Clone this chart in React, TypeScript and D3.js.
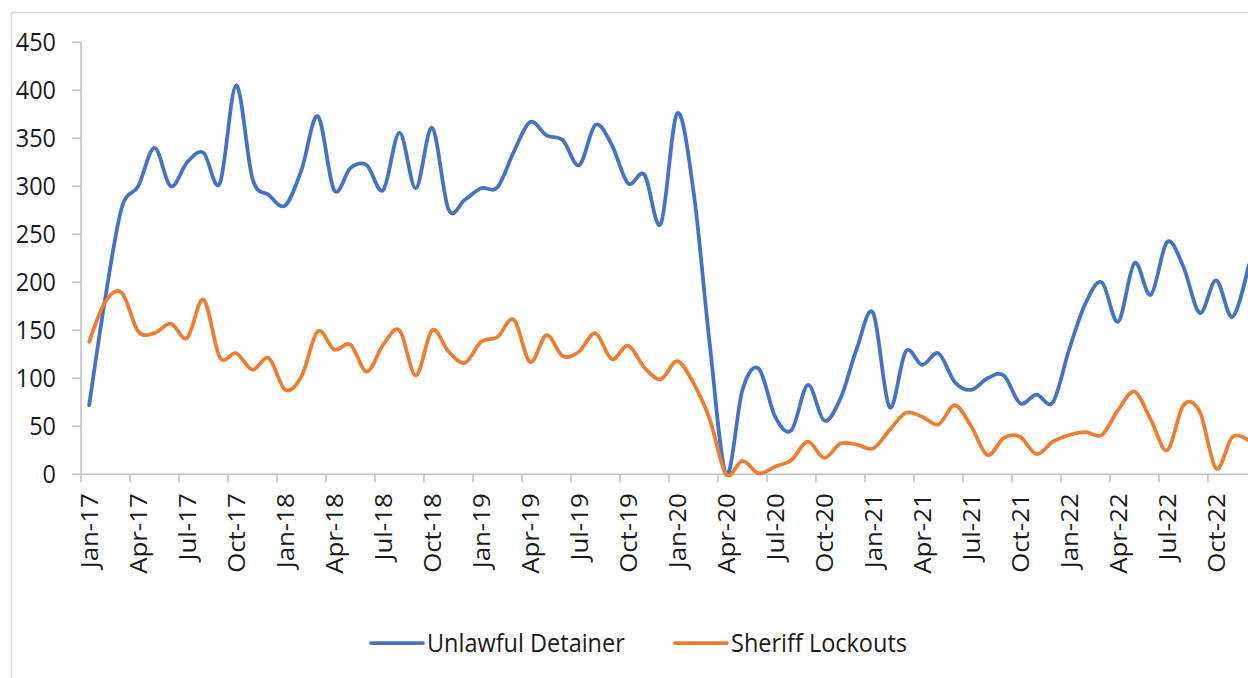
import React, { useEffect, useRef } from 'react';
import * as d3 from 'd3';

// monthly counts, Jan-17 .. Dec-22
const unlawfulDetainer = [
  72, 185, 278, 300, 340, 300, 325, 335, 303, 405, 308, 291,
  280, 317, 373, 296, 319, 322, 296, 356, 298, 361, 276, 286,
  298, 299, 336, 367, 353, 348, 322, 364, 343, 303, 312, 261,
  376, 295, 135, 0, 88, 110, 60, 46, 93, 56, 79, 131,
  168, 70, 128, 114, 126, 96, 88, 100, 103, 74, 83, 75,
  130, 178, 200, 159, 220, 187, 242, 216, 168, 202, 164, 218,
];

const sheriffLockouts = [
  138, 180, 189, 149, 147, 157, 142, 182, 122, 126, 109, 121,
  88, 102, 149, 130, 135, 107, 135, 150, 103, 150, 128, 116,
  138, 143, 161, 117, 145, 123, 128, 147, 120, 134, 111, 99,
  118, 95, 57, 0, 14, 1, 8, 15, 34, 17, 32, 31,
  27, 46, 64, 60, 52, 72, 50, 20, 38, 39, 21, 34,
  41, 44, 41, 67, 86, 57, 25, 72, 65, 6, 39, 35,
];

const seriesNames = ['Unlawful Detainer', 'Sheriff Lockouts'];
const seriesColors = ['#4472C4', '#ED7D31'];
const yTicks = [0, 50, 100, 150, 200, 250, 300, 350, 400, 450];

const months = d3.timeMonths(new Date(2017, 0, 1), new Date(2023, 0, 1));
const fmt = d3.timeFormat('%b-%y');

const Chart = () => {
  const ref = useRef<SVGSVGElement | null>(null);

  useEffect(() => {
    const svg = d3.select(ref.current);
    svg.selectAll('*').remove();

    const font = '"Open Sans", sans-serif';
    const fontSize = '23.5px';
    const stretch = 1.1; // text in the source is a bit taller than wide
    const left = 81;
    const step = 16.333;

    // frame
    svg.append('rect')
      .attr('x', 11.5).attr('y', 12.5)
      .attr('width', 1300).attr('height', 700)
      .attr('fill', 'white')
      .attr('stroke', '#d9d9d9').attr('stroke-width', 1.5);

    const x = d3.scaleBand<number>()
      .domain(d3.range(months.length))
      .range([left, left + step * months.length]);

    const y = d3.scaleLinear().domain([0, 450]).range([474.3, 42.3]);

    const cx = (i: number) => (x(i) as number) + x.bandwidth() / 2;

    // y axis
    svg.append('line')
      .attr('x1', left).attr('x2', left)
      .attr('y1', y(450)).attr('y2', y(0))
      .attr('stroke', '#bfbfbf').attr('stroke-width', 1.5);
    svg.selectAll('.ytick')
      .data(yTicks)
      .enter().append('line')
      .attr('x1', left - 9).attr('x2', left)
      .attr('y1', d => y(d)).attr('y2', d => y(d))
      .attr('stroke', '#bfbfbf').attr('stroke-width', 1.5);
    svg.selectAll('.ylab')
      .data(yTicks)
      .enter().append('text')
      .attr('transform', d => `translate(56,${y(d)}) scale(1,${stretch})`)
      .attr('dy', '0.35em')
      .attr('text-anchor', 'end')
      .style('font-family', font)
      .style('font-size', fontSize)
      .attr('fill', '#1a1a1a')
      .text(d => d);

    // x axis
    svg.append('line')
      .attr('x1', left).attr('x2', 1300)
      .attr('y1', y(0)).attr('y2', y(0))
      .attr('stroke', '#bfbfbf').attr('stroke-width', 1.5);
    const quarters = d3.range(0, months.length, 3);
    svg.selectAll('.xtick')
      .data(quarters)
      .enter().append('line')
      .attr('x1', d => x(d) as number).attr('x2', d => x(d) as number)
      .attr('y1', y(0)).attr('y2', y(0) + 8)
      .attr('stroke', '#bfbfbf').attr('stroke-width', 1.5);
    svg.selectAll('.xlab')
      .data(quarters)
      .enter().append('text')
      .attr('transform', d => `translate(${cx(d) + 1},${y(0) + 19}) scale(1,${stretch}) rotate(-90)`)
      .attr('dy', '0.35em')
      .attr('text-anchor', 'end')
      .style('font-family', font)
      .style('font-size', fontSize)
      .attr('fill', '#1a1a1a')
      .text(d => fmt(months[d]));

    // lines
    const line = d3.line<number>()
      .x((_, i) => cx(i))
      .y(d => y(d))
      .curve(d3.curveCardinal.tension(0));

    [unlawfulDetainer, sheriffLockouts].forEach((data, k) => {
      svg.append('path')
        .datum(data)
        .attr('d', line)
        .attr('fill', 'none')
        .attr('stroke', seriesColors[k])
        .attr('stroke-width', 3.75)
        .attr('stroke-linejoin', 'round')
        .attr('stroke-linecap', 'round');
    });

    // legend
    const legendX = [371, 675];
    seriesNames.forEach((name, k) => {
      svg.append('line')
        .attr('x1', legendX[k]).attr('x2', legendX[k] + 52)
        .attr('y1', 643).attr('y2', 643)
        .attr('stroke', seriesColors[k])
        .attr('stroke-width', 3.75)
        .attr('stroke-linecap', 'round');
      svg.append('text')
        .attr('transform', `translate(${legendX[k] + 56},643) scale(1,${stretch})`)
        .attr('dy', '0.35em')
        .style('font-family', font)
        .style('font-size', fontSize)
        .attr('fill', '#1a1a1a')
        .text(name);
    });
  }, []);

  return (
    <svg
      ref={ref}
      width={1248}
      height={678}
      style={{ position: 'absolute', left: 0, top: 0, background: 'white' }}
    />
  );
};

export default function App() {
  return <Chart />;
}
